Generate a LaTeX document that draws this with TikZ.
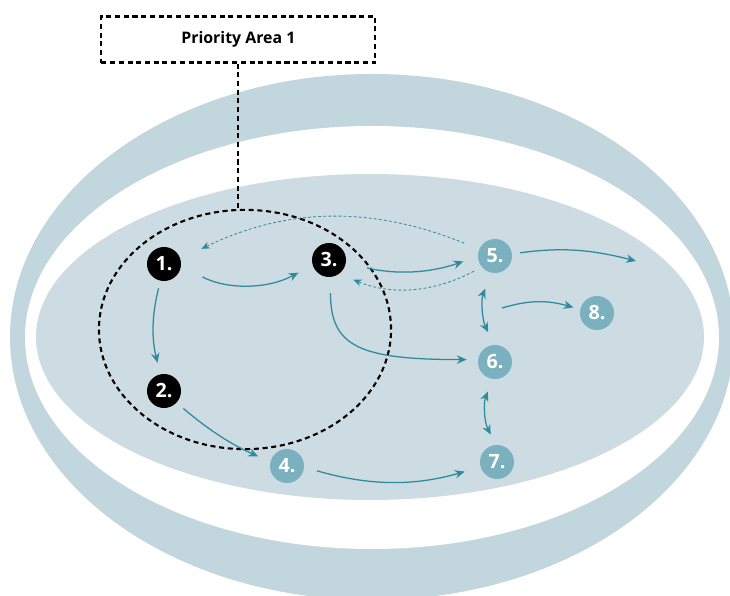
\documentclass[tikz,border=0pt]{standalone}
\usepackage{fontspec}
\setmainfont{Open Sans}
\usepackage{tikz}
\usetikzlibrary{arrows.meta, positioning, shapes.geometric}
\definecolor{ringblue}{RGB}{194, 214, 222}
\definecolor{coreblue}{RGB}{205, 219, 226}
\definecolor{stepteal}{RGB}{123, 176, 191}
\definecolor{flowteal}{RGB}{46, 139, 158}

\begin{document}
\begin{tikzpicture}[x=0.025cm, y=0.025cm,
  keystep/.style={circle, fill=black, text=white, minimum size=0.85cm, inner sep=0pt, font=\bfseries\fontsize{14}{15}\selectfont},
  laterstep/.style={keystep, fill=stepteal},
  flow/.style={-{Stealth[length=7pt, width=6pt]}, flowteal, line width=0.9pt},
  backflow/.style={-{Stealth[length=6pt, width=5pt]}, flowteal, line width=0.6pt, dash pattern=on 2pt off 1.6pt},
  both/.style={{Stealth[length=7pt, width=6pt]}-{Stealth[length=7pt, width=6pt]}, flowteal, line width=0.9pt},
  areadash/.style={draw=black, line width=1.5pt, dash pattern=on 3.6pt off 2.6pt}
]
  \useasboundingbox (0,0) rectangle (730,-596);
  \clip (0,0) rectangle (730,-596);

  % Rings
  \fill[ringblue] (372,-337) ellipse [x radius=362, y radius=263];
  \fill[white] (372,-337.5) ellipse [x radius=347, y radius=211.5];
  \fill[coreblue] (370,-337) ellipse [x radius=334, y radius=163];

  % Priority area
  \node[ellipse, areadash, minimum width=7.3cm, minimum height=5.98cm, inner sep=0pt] (prio) at (245,-329.5) {};
  \node[areadash, fill=white, minimum width=6.85cm, minimum height=1.15cm, font=\bfseries\fontsize{11.3}{13}\selectfont] (area) at (238.4,-39.5) {Priority Area 1};
  \draw[areadash] (area.south) -- (area.south |- prio.north);

  % Steps
  \node[keystep] (s1) at (164,-264) {1.};
  \node[keystep] (s2) at (164,-391) {2.};
  \node[keystep] (s3) at (329,-260) {3.};
  \node[laterstep] (s4) at (287,-466) {4.};
  \node[laterstep] (s5) at (495,-256) {5.};
  \node[laterstep] (s6) at (495,-362) {6.};
  \node[laterstep] (s7) at (497,-462) {7.};
  \node[laterstep] (s8) at (597,-313) {8.};

  \coordinate (out5) at (636,-261);
  \coordinate (fork) at (502,-308);

  % Flows
  \draw[flow, shorten <=0.6cm, shorten >=0.4cm] (s1.-6) to[bend right=28] (s3.197);
  \draw[flow, shorten <=0.19cm, shorten >=0.29cm] (s1.-102) to[bend right=14] (s2.102);
  \draw[flow, shorten <=0.22cm, shorten >=0.33cm] (s2.-43) to[bend right=8] (s4.166);
  \draw[flow, shorten <=0.4cm, shorten >=0.28cm] (s3.-85) to[out=-90, in=180, out looseness=1.05, in looseness=1.8] (s6.172);
  \draw[flow, shorten <=0.54cm, shorten >=0.38cm] (s3.-10) to[bend right=16] (s5.182);
  \draw[flow, shorten <=0.33cm, shorten >=0.41cm] (s4.-4) to[bend right=16] (s7.197);
  \draw[flow, shorten <=0.2cm] (s5.7) to[bend left=11] (out5);
  \draw[flow] (fork) to[bend left=16] ([shift={(-0.18cm,0)}]s8.161);
  \draw[both, shorten <=0.42cm, shorten >=0.35cm] (s5.-102) to[bend right=24] (s6.92);
  \draw[both, shorten <=0.33cm, shorten >=0.28cm] (s6.-98) to[bend right=24] (s7.94);

  % Back flows
  \draw[backflow, shorten <=0.22cm, shorten >=0.38cm] (s5.220) to[bend left=25] (s3.-54);
  \draw[backflow, shorten <=0.4cm, shorten >=0.58cm] (s5.157) to[bend right=24] (s1.17.5);
\end{tikzpicture}
\end{document}
